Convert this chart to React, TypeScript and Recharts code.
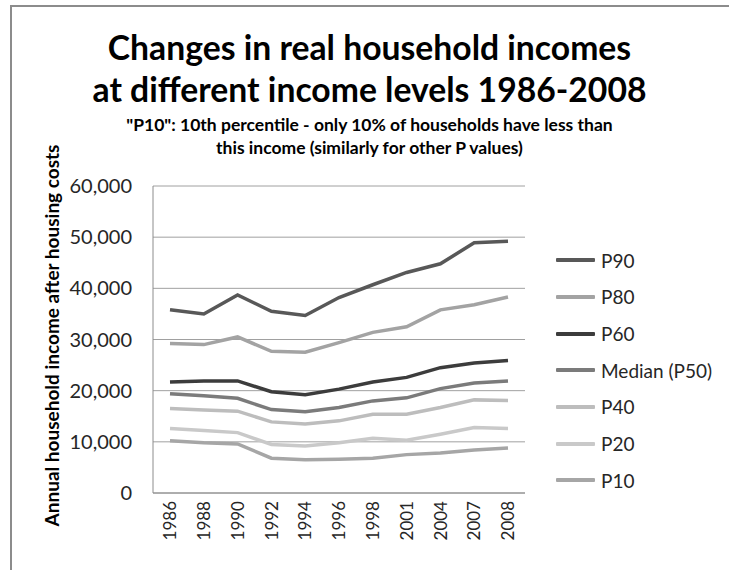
import React from 'react';
import { LineChart, Line, XAxis, YAxis, CartesianGrid, Legend } from 'recharts';

// Survey years on the category axis
const years = ['1986', '1988', '1990', '1992', '1994', '1996', '1998', '2001', '2004', '2007', '2008'];

// Annual household income after housing costs, by percentile
const p90 = [35800, 35000, 38700, 35500, 34700, 38200, 40700, 43100, 44800, 48900, 49200];
const p80 = [29200, 29000, 30500, 27700, 27500, 29400, 31400, 32500, 35800, 36800, 38300];
const p60 = [21700, 21900, 21900, 19800, 19200, 20300, 21700, 22600, 24500, 25400, 25900];
const p50 = [19400, 19000, 18500, 16300, 15900, 16700, 18000, 18600, 20400, 21500, 21900];
const p40 = [16500, 16200, 16000, 13900, 13500, 14100, 15400, 15400, 16700, 18200, 18100];
const p20 = [12600, 12200, 11800, 9500, 9200, 9800, 10700, 10300, 11500, 12800, 12600];
const p10 = [10200, 9800, 9600, 6800, 6500, 6600, 6800, 7500, 7800, 8400, 8800];

const yTicks = [0, 10000, 20000, 30000, 40000, 50000, 60000];

const seriesDefs = [
  { key: 'P90', label: 'P90', values: p90, color: '#585858' },
  { key: 'P80', label: 'P80', values: p80, color: '#a3a3a3' },
  { key: 'P60', label: 'P60', values: p60, color: '#3c3c3c' },
  { key: 'P50', label: 'Median (P50)', values: p50, color: '#7b7b7b' },
  { key: 'P40', label: 'P40', values: p40, color: '#bdbdbd' },
  { key: 'P20', label: 'P20', values: p20, color: '#c9c9c9' },
  { key: 'P10', label: 'P10', values: p10, color: '#a6a6a6' },
];

const rows = years.map((year, i) => {
  const row: Record<string, string | number> = { year };
  seriesDefs.forEach((s) => {
    row[s.key] = s.values[i];
  });
  return row;
});

const FONT = 'Lato, "Open Sans", sans-serif';

const YearTick = (props: any) => {
  const { x, y, payload } = props;
  return (
    <text
      x={x}
      y={y}
      transform={`rotate(-90, ${x}, ${y})`}
      textAnchor="end"
      dy="0.36em"
      fontSize={17}
      fontFamily={FONT}
      fill="#262626"
    >
      {payload.value}
    </text>
  );
};

const YLabel = (props: any) => {
  const { viewBox } = props;
  const cx = 51;
  const cy = viewBox.y + viewBox.height / 2 - 4;
  return (
    <text
      x={cx}
      y={cy}
      transform={`rotate(-90, ${cx}, ${cy})`}
      textAnchor="middle"
      dominantBaseline="central"
      fontSize={19}
      fontWeight={700}
      fontFamily={FONT}
      fill="#000"
    >
      Annual household income after housing costs
    </text>
  );
};

// Legend keeps the series order of the definitions above
const LegendList = (props: any) => {
  const order = seriesDefs.map((s) => s.label);
  const payload = [...(props.payload || [])].sort(
    (a: any, b: any) => order.indexOf(a.value) - order.indexOf(b.value)
  );
  return (
    <div style={{ fontFamily: FONT }}>
      {payload.map((entry: any) => (
        <div
          key={entry.value}
          style={{ display: 'flex', alignItems: 'center', height: 36.67 }}
        >
          <div style={{ width: 39, height: 4, background: entry.color, borderRadius: 1 }} />
          <span style={{ marginLeft: 6, fontSize: 19, color: '#262626', whiteSpace: 'nowrap' }}>
            {entry.value}
          </span>
        </div>
      ))}
    </div>
  );
};

export default function App() {
  return (
    <div
      style={{
        position: 'fixed',
        left: 0,
        top: 0,
        width: 729,
        height: 570,
        background: '#fff',
        overflow: 'hidden',
        fontFamily: FONT,
      }}
    >
      <style>{'html, body { overflow: hidden; }'}</style>
      <div
        style={{
          position: 'absolute',
          left: 10,
          top: 5,
          width: 760,
          height: 600,
          borderLeft: '2px solid #8c8c8c',
          borderTop: '2px solid #8c8c8c',
        }}
      />
      <div
        style={{
          position: 'absolute',
          left: 10,
          top: 25.5,
          width: 719,
          textAlign: 'center',
          fontSize: 33.7,
          lineHeight: '42px',
          fontWeight: 700,
          color: '#000',
        }}
      >
        Changes in real household incomes
        <br />
        at different income levels 1986-2008
      </div>
      <div
        style={{
          position: 'absolute',
          left: 10,
          top: 113,
          width: 719,
          textAlign: 'center',
          fontSize: 17.5,
          lineHeight: '23px',
          fontWeight: 700,
          color: '#000',
        }}
      >
        "P10": 10th percentile - only 10% of households have less than
        <br />
        this income (similarly for other P values)
      </div>
      <div style={{ position: 'absolute', left: 0, top: 0 }}>
        <LineChart
          width={729}
          height={570}
          data={rows}
          margin={{ top: 186, right: 204, bottom: 0, left: 0 }}
        >
          <CartesianGrid vertical={false} stroke="#a0a0a0" strokeWidth={1} />
          <XAxis
            dataKey="year"
            interval={0}
            padding={{ left: 17, right: 17 }}
            tickLine={false}
            axisLine={{ stroke: '#8c8c8c', strokeWidth: 1 }}
            tick={<YearTick />}
            height={77}
          />
          <YAxis
            width={153}
            domain={[0, 60000]}
            ticks={yTicks}
            interval={0}
            tickLine={false}
            tickSize={6}
            tickMargin={15}
            axisLine={{ stroke: '#8c8c8c', strokeWidth: 1 }}
            tickFormatter={(v: number) => v.toLocaleString('en-US')}
            tick={{ fontSize: 20, fontFamily: FONT, fill: '#262626' }}
            label={<YLabel />}
          />
          <Legend
            layout="vertical"
            align="center"
            verticalAlign="middle"
            content={<LegendList />}
            wrapperStyle={{ left: 556, top: 242, width: 170, height: 260 }}
          />
          {seriesDefs.map((s) => (
            <Line
              key={s.key}
              type="linear"
              dataKey={s.key}
              name={s.label}
              stroke={s.color}
              strokeWidth={3.5}
              dot={false}
              activeDot={false}
              isAnimationActive={false}
            />
          ))}
        </LineChart>
      </div>
    </div>
  );
}
